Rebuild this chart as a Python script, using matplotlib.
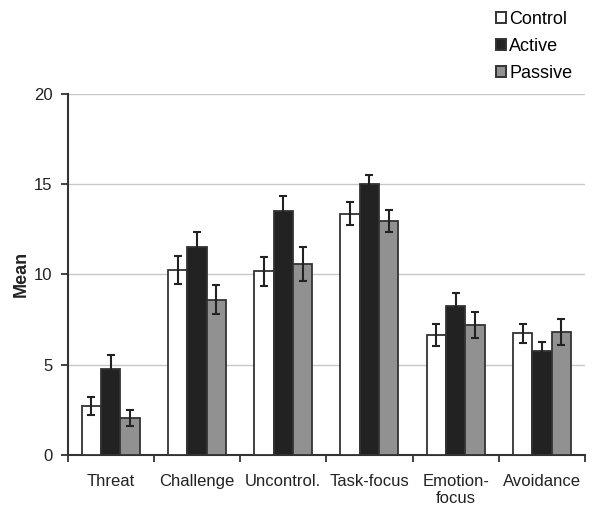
import matplotlib
matplotlib.use("Agg")
import matplotlib.pyplot as plt
import numpy as np
from matplotlib.patches import Patch

plt.rcParams['font.family'] = ['Liberation Sans', 'DejaVu Sans']

categories = ["Threat", "Challenge", "Uncontrol.", "Task-focus", "Emotion-\nfocus", "Avoidance"]
series_names = ["Control", "Active", "Passive"]
control = [2.71, 10.22, 10.17, 13.36, 6.64, 6.73]
control_err = [0.52, 0.78, 0.79, 0.62, 0.63, 0.54]
active = [4.74, 11.51, 13.49, 14.98, 8.23, 5.75]
active_err = [0.80, 0.85, 0.86, 0.50, 0.72, 0.50]
passive = [2.05, 8.60, 10.57, 12.97, 7.19, 6.81]
passive_err = [0.45, 0.79, 0.92, 0.60, 0.72, 0.73]
yticks = [0, 5, 10, 15, 20]

colors = ["white", "#222222", "#919191"]

fig = plt.figure(figsize=(6.0, 5.14), dpi=100)
ax = fig.add_axes([0.1128, 0.1148, 0.8622, 0.7029])

x = np.arange(len(categories))
w = 0.224
vals = [control, active, passive]
errs = [control_err, active_err, passive_err]
for i, (v, e, c) in enumerate(zip(vals, errs, colors)):
    ax.bar(x + (i - 1) * w, v, width=w, color=c, edgecolor="#333333", linewidth=1.3, zorder=3)
    ax.errorbar(x + (i - 1) * w, v, yerr=e, fmt="none", ecolor="#222222",
                elinewidth=1.5, capsize=2.8, capthick=1.5, zorder=4)

ax.set_xlim(-0.5, len(categories) - 0.5)
ax.set_ylim(0, 20)
ax.set_yticks(yticks)
ax.set_yticklabels([str(t) for t in yticks], fontsize=12, color="#222222")
ax.yaxis.grid(True, color="#c8c8c8", linewidth=1.0, zorder=0)
ax.set_axisbelow(True)

ax.set_xticks(np.arange(-0.5, len(categories), 1.0))
ax.set_xticklabels([])
ax.set_xticks(x, minor=True)
ax.set_xticklabels(categories, minor=True, fontsize=12, color="#222222", linespacing=1.15)
ax.tick_params(axis="x", which="minor", length=0, pad=14)
ax.tick_params(axis="x", which="major", length=5, width=1.3, color="#333333", direction="out")
ax.tick_params(axis="y", length=5, width=1.3, color="#333333", direction="out", pad=6)

for s in ["top", "right"]:
    ax.spines[s].set_visible(False)
for s in ["left", "bottom"]:
    ax.spines[s].set_color("#333333")
    ax.spines[s].set_linewidth(1.5)

ax.set_ylabel("Mean", fontsize=13, fontweight="bold", color="#222222", labelpad=3)

handles = [Patch(facecolor=c, edgecolor="#333333", linewidth=1.4) for c in colors]
fig.legend(handles, series_names, loc="upper left", bbox_to_anchor=(0.808, 1.0),
           frameon=False, fontsize=13, handlelength=0.6, handleheight=0.6,
           handletextpad=0.15, labelspacing=0.55, borderaxespad=0.2)

fig.savefig("out.png", dpi=100)
